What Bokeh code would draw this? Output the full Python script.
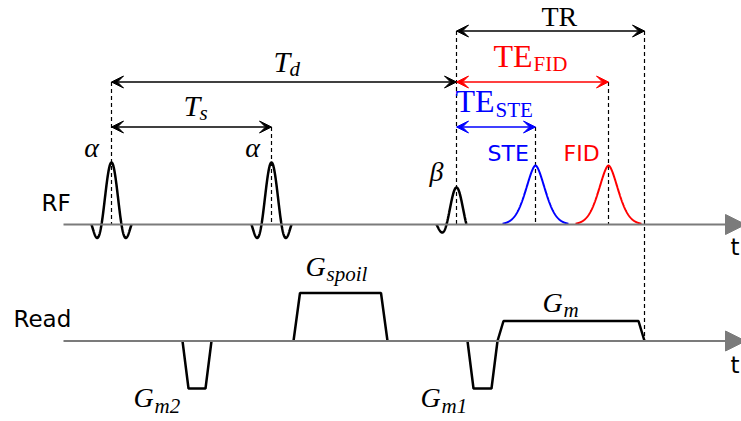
import numpy as np
from bokeh.plotting import figure
from bokeh.models import Range1d, Arrow, VeeHead, NormalHead
from bokeh.core.properties import value
from bokeh.embed import file_html
from bokeh.resources import INLINE

# ---------------- diagram data (time in diagram units) ----------------
rf_level = 224.0
read_level = 340.5
axis_from = 63.0
axis_to = 745.0

rf_names = ["α", "α", "β"]
rf_centers = [111.0, 271.0, 456.0]
rf_amps = [62.0, 62.0, 37.0]
rf_halfwidth = [10.0, 10.0, 10.0]
rf_lobes_left = [2.0, 2.0, 2.0]
rf_lobes_right = [2.0, 2.0, 1.0]

echo_names = ["STE", "FID"]
echo_centers = [535.0, 608.0]
echo_amps = [59.0, 59.0]
echo_halfspan = [33.0, 33.0]
echo_colors = ["#0000ff", "#ff0000"]

grad_names = ["m2", "spoil", "m1", "m"]
grad_start = [182.0, 293.0, 467.0, 497.0]
grad_ramp = [6.0, 6.5, 6.0, 6.0]
grad_flat = [17.0, 81.0, 18.0, 135.0]
grad_amps = [-47.5, 48.0, -47.5, 20.0]

# intervals
iv_names = ["TR", "Td", "Ts", "TE_FID", "TE_STE"]
iv_start = [456.0, 111.0, 111.0, 456.0, 456.0]
iv_end = [644.0, 456.0, 271.0, 608.0, 535.0]
iv_level = [30.5, 81.5, 126.5, 81.5, 126.5]
iv_colors = ["black", "black", "black", "#ff0000", "#0000ff"]

# dashed timing markers: (time, top, bottom)
mk_time = [111.0, 271.0, 456.0, 535.0, 608.0, 644.0]
mk_top = [81.5, 126.5, 30.5, 126.5, 81.5, 30.5]
mk_bottom = [224.0, 224.0, 224.0, 224.0, 224.0, 340.5]

# ---------------- figure ----------------
W, H = 741, 421
p = figure(width=W, height=H, x_range=Range1d(0, W), y_range=Range1d(H, 0),
           output_backend="svg", toolbar_location=None,
           x_axis_location=None, y_axis_location=None, min_border=0)
p.grid.visible = False
p.outline_line_color = None
p.background_fill_color = "white"
p.border_fill_color = "white"

gray = "#7b7b7b"
SERIF = value("Liberation Serif")
SANS = value("DejaVu Sans")

for lvl in (rf_level, read_level):
    p.add_layout(Arrow(x_start=axis_from, y_start=lvl, x_end=axis_to, y_end=lvl,
                       line_color=gray, line_width=2,
                       end=NormalHead(size=20, fill_color=gray, line_color=gray, line_width=1),
                       start=None))

for t, a, b in zip(mk_time, mk_top, mk_bottom):
    p.line([t, t], [a, b], line_color="black", line_width=1.2, line_dash="4 3")

for c, A, hw, L, R in zip(rf_centers, rf_amps, rf_halfwidth, rf_lobes_left, rf_lobes_right):
    u = np.linspace(-L, R, 200)
    p.line(c + u * hw, rf_level - A * np.sinc(u), line_color="black", line_width=2.5)

for c, A, hs, col in zip(echo_centers, echo_amps, echo_halfspan, echo_colors):
    d = np.linspace(-hs, hs, 301)
    shape = np.exp(-(np.abs(d) / 14.0) ** 1.7)
    p.line(c + d, rf_level - A * shape, line_color=col, line_width=2)

for s, r, f, A in zip(grad_start, grad_ramp, grad_flat, grad_amps):
    xs = [s, s + r, s + r + f, s + 2 * r + f]
    ys = [read_level, read_level - A, read_level - A, read_level]
    p.line(xs, ys, line_color="black", line_width=2.5)

for a, b, lvl, col in zip(iv_start, iv_end, iv_level, iv_colors):
    p.add_layout(Arrow(x_start=a, y_start=lvl, x_end=b, y_end=lvl,
                       line_color=col, line_width=1.6,
                       start=VeeHead(size=12, fill_color=col, line_color=col, line_width=1),
                       end=VeeHead(size=12, fill_color=col, line_color=col, line_width=1)))


def txt(x, y, s, size, font=SERIF, style="normal", color="black", align="left"):
    # y is the intended alphabetic baseline; compensate renderer offset
    p.text(x=[x], y=[y - 0.4 * size], text=[s], text_font=font,
           text_font_size=f"{size}px", text_font_style=style, text_color=color,
           text_align=align, text_baseline="alphabetic")


txt(41, 212, "RF", 23, font=SANS)
txt(13, 328, "Read", 23, font=SANS)
txt(730, 256, "t", 23, font=SANS)
txt(730, 374, "t", 23, font=SANS)
txt(487, 162, echo_names[0], 22, font=SANS, color=echo_colors[0])
txt(563, 162, echo_names[1], 22, font=SANS, color=echo_colors[1])

txt(91, 158, rf_names[0], 28, style="italic", align="center")
txt(252, 158, rf_names[1], 28, style="italic", align="center")
txt(436, 182, rf_names[2], 28, style="italic", align="center")

txt(541, 27, "TR", 28)
txt(273, 73, "T", 30, style="italic")
txt(289, 77, "d", 21, style="italic")
txt(183, 117, "T", 30, style="italic")
txt(199, 121, "s", 21, style="italic")
txt(493, 68, "TE", 32, color="#ff0000")
txt(533, 72, "FID", 21, color="#ff0000")
txt(455, 113, "TE", 32, color="#0000ff")
txt(495, 118, "STE", 21, color="#0000ff")

txt(133, 408, "G", 28, style="italic")
txt(154, 414, grad_names[0], 21, style="italic")
txt(305, 277, "G", 28, style="italic")
txt(326, 282, grad_names[1], 21, style="italic")
txt(420, 408, "G", 28, style="italic")
txt(441, 414, grad_names[2], 21, style="italic")
txt(542, 313, "G", 28, style="italic")
txt(563, 318, grad_names[3], 21, style="italic")

open("out.html", "w").write(file_html(p, INLINE))
